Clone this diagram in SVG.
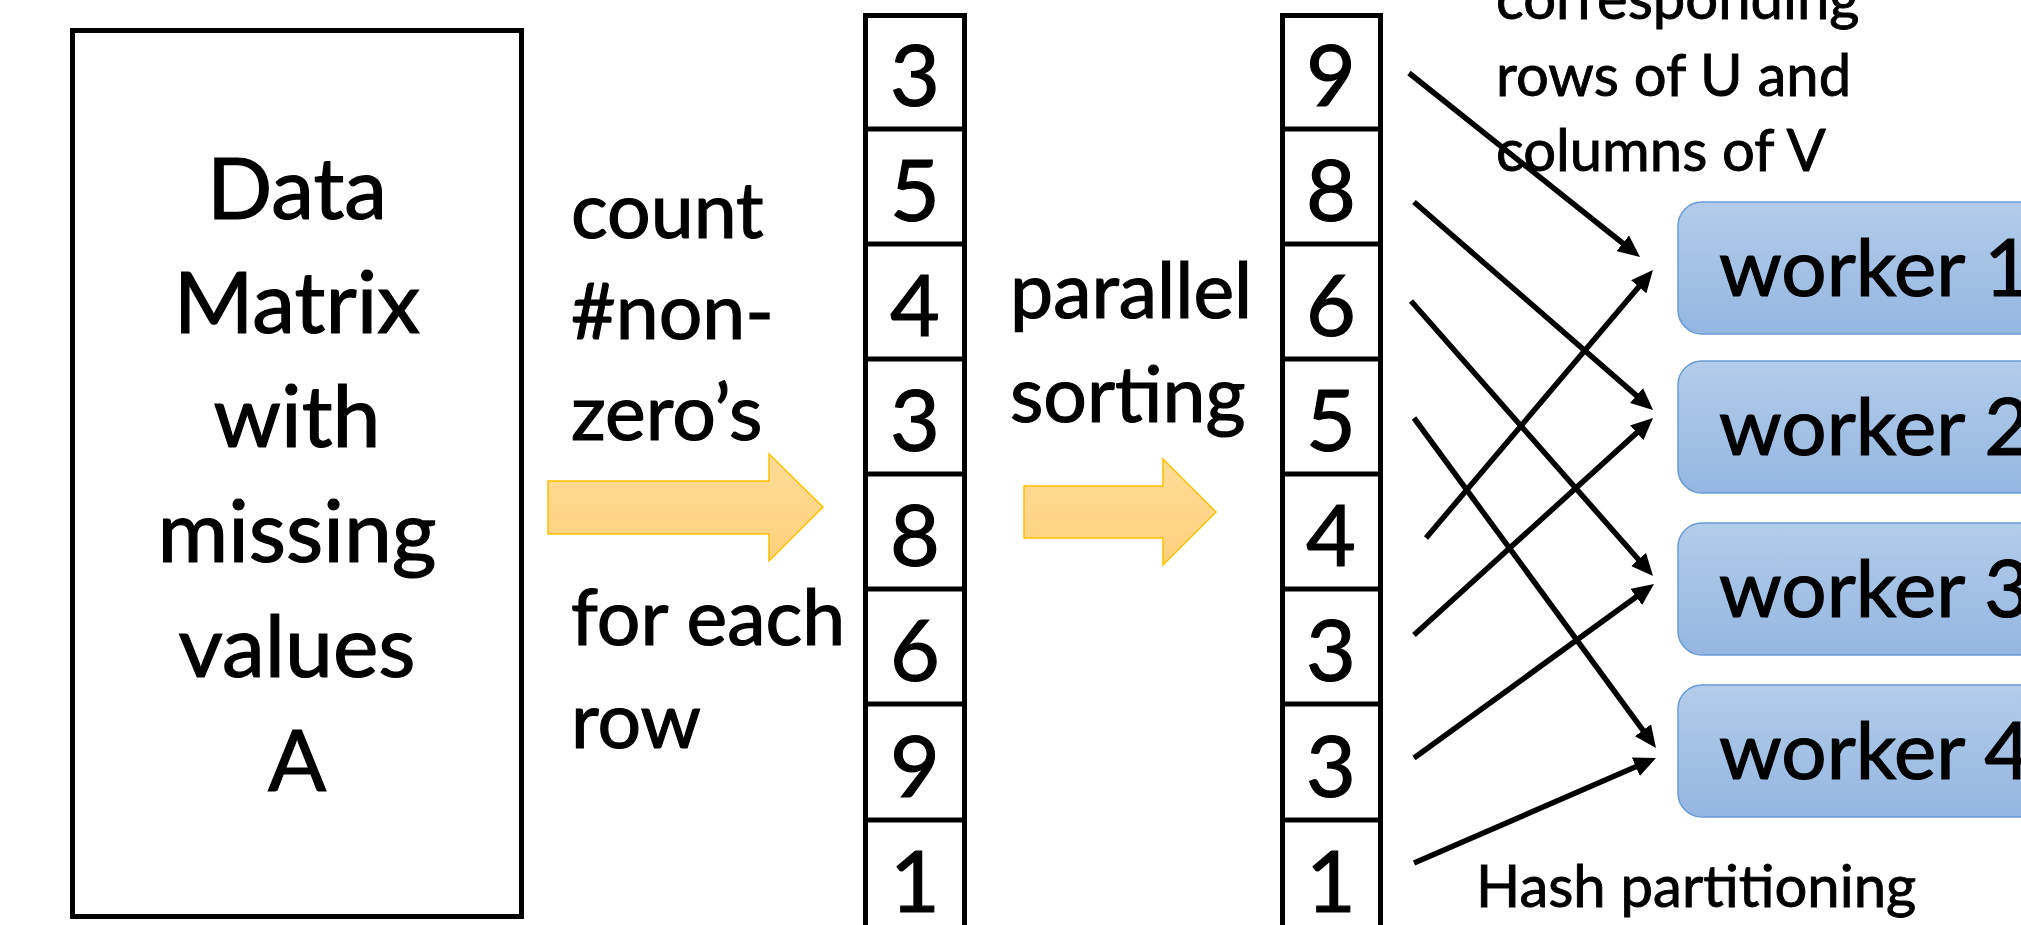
<svg xmlns="http://www.w3.org/2000/svg" width="2021" height="925" viewBox="0 0 2021 925">
<defs>
<linearGradient id="gOrange" x1="0" y1="0" x2="0" y2="1">
<stop offset="0" stop-color="#FFDC96"/>
<stop offset="1" stop-color="#FFD17E"/>
</linearGradient>
<linearGradient id="gBlue" x1="0" y1="0" x2="0" y2="1">
<stop offset="0" stop-color="#B3CDEA"/>
<stop offset="1" stop-color="#94B6E1"/>
</linearGradient>
<marker id="ah" markerUnits="userSpaceOnUse" markerWidth="24" markerHeight="20" refX="10" refY="10" orient="auto">
<path d="M0,0 L22,10 L0,20 Z" fill="#000"/>
</marker>
</defs>
<style>
text{font-family:Lato,"Open Sans","Liberation Sans",sans-serif;fill:#000;stroke:#000;stroke-width:1.2}
.big{font-size:86px}
.mid{font-size:77px}
.num{font-size:86px;text-anchor:middle}
.wk{font-size:80px}
.sm{font-size:58px;stroke-width:0.9}
.box{fill:#fff;stroke:#000;stroke-width:5}
.cell{fill:none;stroke:#000;stroke-width:5}
.yarrow{fill:url(#gOrange);stroke:#FFC000;stroke-width:1.5}
.worker{fill:url(#gBlue);stroke:#6A9BD5;stroke-width:1.5}
.conn line{stroke:#000;stroke-width:5.5;marker-end:url(#ah)}
</style>

<g id="data-matrix">
<rect class="box" x="72.5" y="30.5" width="449" height="886"/>
<text class="big" text-anchor="middle" x="297" y="219">Data</text>
<text class="big" text-anchor="middle" x="297" y="333">Matrix</text>
<text class="big" text-anchor="middle" x="297" y="447">with</text>
<text class="big" text-anchor="middle" x="297" y="562">missing</text>
<text class="big" text-anchor="middle" x="297" y="677">values</text>
<text class="big" text-anchor="middle" x="297" y="791">A</text>
</g>

<g id="count-label">
<text class="mid" x="571" y="238">count</text>
<text class="mid" x="571" y="339">#non-</text>
<text class="mid" x="571" y="440">zero’s</text>
<text class="mid" x="571" y="645">for each</text>
<text class="mid" x="571" y="748">row</text>
</g>

<g id="arrow-count">
<path class="yarrow" d="M548,481 H769 V454 L823,507 L769,561 V534 H548 Z"/>
</g>

<g id="counts-column">
<rect class="cell" x="865.5" y="15.5" width="99" height="930"/>
<line class="cell" x1="865" y1="129" x2="965" y2="129"/>
<line class="cell" x1="865" y1="244" x2="965" y2="244"/>
<line class="cell" x1="865" y1="359" x2="965" y2="359"/>
<line class="cell" x1="865" y1="474" x2="965" y2="474"/>
<line class="cell" x1="865" y1="589" x2="965" y2="589"/>
<line class="cell" x1="865" y1="704" x2="965" y2="704"/>
<line class="cell" x1="865" y1="820" x2="965" y2="820"/>
<text class="num" x="915" y="106">3</text>
<text class="num" x="915" y="221">5</text>
<text class="num" x="915" y="336">4</text>
<text class="num" x="915" y="451">3</text>
<text class="num" x="915" y="566">8</text>
<text class="num" x="915" y="681">6</text>
<text class="num" x="915" y="797">9</text>
<text class="num" x="915" y="912">1</text>
</g>

<g id="sort-label">
<text class="mid" x="1010" y="318">parallel</text>
<text class="mid" x="1010" y="422">sorting</text>
</g>

<g id="arrow-sort">
<path class="yarrow" d="M1024,486 H1163 V459 L1216,512 L1163,565 V538 H1024 Z"/>
</g>

<g id="sorted-column">
<rect class="cell" x="1282.5" y="15.5" width="98" height="930"/>
<line class="cell" x1="1282" y1="129" x2="1381" y2="129"/>
<line class="cell" x1="1282" y1="244" x2="1381" y2="244"/>
<line class="cell" x1="1282" y1="359" x2="1381" y2="359"/>
<line class="cell" x1="1282" y1="474" x2="1381" y2="474"/>
<line class="cell" x1="1282" y1="589" x2="1381" y2="589"/>
<line class="cell" x1="1282" y1="704" x2="1381" y2="704"/>
<line class="cell" x1="1282" y1="820" x2="1381" y2="820"/>
<text class="num" x="1331" y="106">9</text>
<text class="num" x="1331" y="221">8</text>
<text class="num" x="1331" y="336">6</text>
<text class="num" x="1331" y="451">5</text>
<text class="num" x="1331" y="566">4</text>
<text class="num" x="1331" y="681">3</text>
<text class="num" x="1331" y="797">3</text>
<text class="num" x="1331" y="912">1</text>
</g>

<g id="uv-label">
<text class="sm" x="1496" y="19">corresponding</text>
<text class="sm" x="1496" y="96">rows of U and</text>
<text class="sm" x="1496" y="171">columns of V</text>
</g>

<g id="worker-1">
<rect class="worker" x="1678" y="202" width="420" height="132" rx="24"/>
<text class="wk" x="1719" y="296">worker 1</text>
</g>
<g id="worker-2">
<rect class="worker" x="1678" y="361" width="420" height="132" rx="24"/>
<text class="wk" x="1719" y="455">worker 2</text>
</g>
<g id="worker-3">
<rect class="worker" x="1678" y="523" width="420" height="132" rx="24"/>
<text class="wk" x="1719" y="617">worker 3</text>
</g>
<g id="worker-4">
<rect class="worker" x="1678" y="685" width="420" height="132" rx="24"/>
<text class="wk" x="1719" y="779">worker 4</text>
</g>

<g id="hash-label">
<text class="sm" x="1476" y="907">Hash partitioning</text>
</g>

<g id="connectors" class="conn">
<line x1="1409" y1="73" x2="1630.6" y2="249.5"/>
<line x1="1414" y1="202" x2="1644.0" y2="402.1"/>
<line x1="1411" y1="301" x2="1645.1" y2="567.0"/>
<line x1="1414" y1="418" x2="1648.9" y2="738.3"/>
<line x1="1426" y1="538" x2="1645.2" y2="279.2"/>
<line x1="1414" y1="635" x2="1644.1" y2="426.1"/>
<line x1="1414" y1="758" x2="1644.3" y2="591.0"/>
<line x1="1414" y1="863" x2="1645.0" y2="762.8"/>
</g>
</svg>
